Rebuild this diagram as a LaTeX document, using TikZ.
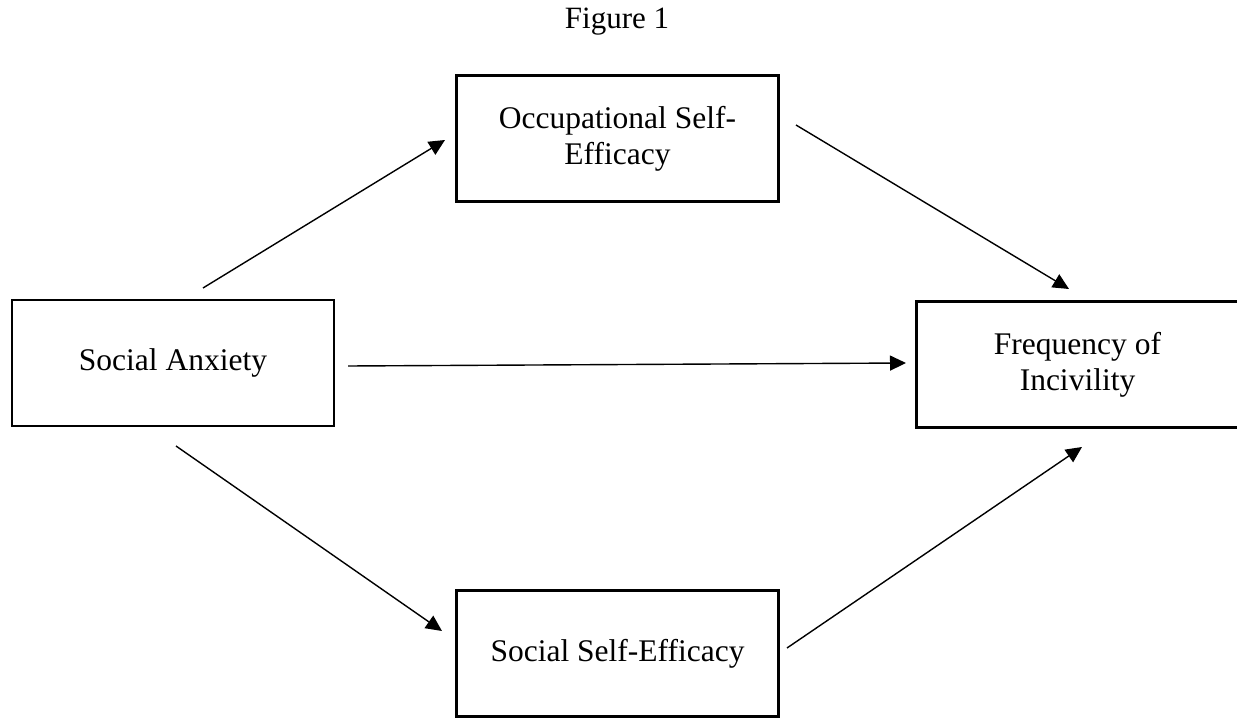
\documentclass[tikz,border=0pt]{standalone}
\usepackage{fontspec}
\setmainfont{Liberation Serif}
\usetikzlibrary{arrows.meta}
\tikzset{
  varbox/.style={draw, line width=2.6pt, minimum width=322pt, minimum height=126pt, inner sep=0pt, align=center, font=\fontsize{31.5}{36}\selectfont},
  link/.style={line width=1.4pt, -{Triangle[length=16pt,width=15pt]}},
  title/.style={font=\fontsize{31}{36}\selectfont}
}
\begin{document}
\begin{tikzpicture}[x=1pt,y=-1pt]
\useasboundingbox (0,0) rectangle (1237,719);
\node[title] (fig) at (617,22) {Figure 1};
\node[varbox] (sa) at (173,363) {Social Anxiety};
\node[varbox] (ose) at (617.5,138.5) {Occupational Self-\\Efficacy};
\node[varbox] (foi) at (1077.5,364.5) {Frequency of\\Incivility};
\node[varbox] (sse) at (617.5,653.5) {Social Self-Efficacy};
\coordinate (a1s) at (203,288);
\coordinate (a1e) at (445,140);
\coordinate (a2s) at (796,125);
\coordinate (a2e) at (1069,289);
\coordinate (a3s) at (348,366);
\coordinate (a3e) at (906,363);
\coordinate (a4s) at (176,446);
\coordinate (a4e) at (442,631);
\coordinate (a5s) at (787,648);
\coordinate (a5e) at (1082,447);
\draw[link] (a1s) -- (a1e);
\draw[link] (a2s) -- (a2e);
\draw[link] (a3s) -- (a3e);
\draw[link] (a4s) -- (a4e);
\draw[link] (a5s) -- (a5e);
\end{tikzpicture}
\end{document}
